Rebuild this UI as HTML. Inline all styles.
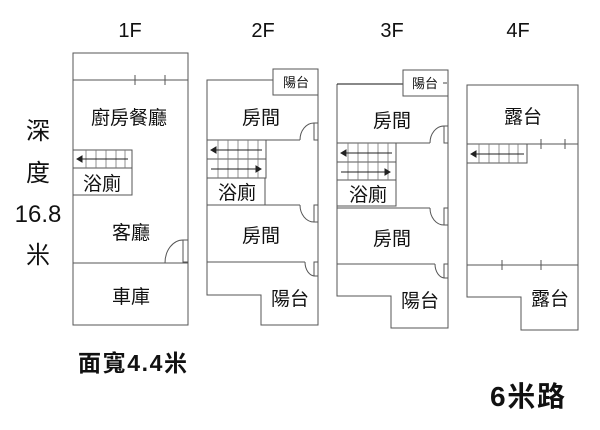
<!DOCTYPE html>
<html><head><meta charset="utf-8"><style>
html,body{margin:0;padding:0;background:#fff;}
svg{display:block;}
text{font-family:"Liberation Sans","Noto Sans CJK TC",sans-serif;fill:#111;}
</style></head><body>
<svg width="600" height="430" viewBox="0 0 600 430" xmlns="http://www.w3.org/2000/svg">
<g font-size="20" text-anchor="middle">
<text x="130" y="37">1F</text><text x="263" y="37">2F</text><text x="392" y="37">3F</text><text x="518" y="37">4F</text>
</g>
<g font-size="24" text-anchor="middle">
<text x="38" y="139">深</text><text x="38" y="181">度</text><text x="38" y="222">16.8</text><text x="38" y="263">米</text>
</g>
<text x="78" y="371" font-size="23" font-weight="bold" textLength="109">面寬4.4米</text>
<text x="490" y="406" font-size="28" font-weight="bold" textLength="75">6米路</text>

<g fill="none" stroke="#555" stroke-width="1">
<!-- 1F -->
<rect x="73" y="53" width="115" height="272"/>
<line x1="73" y1="80" x2="188" y2="80"/>
<line x1="135" y1="75" x2="135" y2="85"/><line x1="165" y1="75" x2="165" y2="85"/>
<rect x="73" y="150" width="59" height="45"/>
<line x1="73" y1="168" x2="132" y2="168"/>
<line x1="73" y1="263" x2="188" y2="263"/>
<path d="M165 263 A18 23 0 0 1 183 240"/>
<rect x="183" y="240" width="5" height="22"/>
<!-- 2F -->
<path d="M273 80 H207 V295 H261 V325 H318 V69"/>
<rect x="273" y="69" width="45" height="26"/>
<line x1="207" y1="140" x2="300" y2="140"/>
<path d="M300 140 A14 17 0 0 1 314 123"/><rect x="314" y="123" width="4" height="17"/>
<line x1="207" y1="205" x2="300" y2="205"/>
<path d="M300 205 A14 17 0 0 0 314 222"/><rect x="314" y="205" width="4" height="17"/>
<line x1="207" y1="262" x2="305" y2="262"/>
<path d="M305 262 A10 14 0 0 0 315 276"/><rect x="314" y="262" width="4" height="14"/>
<rect x="207" y="140" width="59" height="38"/>
<line x1="207" y1="159" x2="266" y2="159"/>
<line x1="207" y1="178" x2="207" y2="205"/><line x1="265" y1="178" x2="265" y2="205"/>
<!-- 3F -->
<path d="M337 84 V296 H391 V328 H448 V70"/>
<path d="M403 84 H337" stroke="#111"/>
<rect x="403" y="70" width="45" height="26"/>
<line x1="337" y1="143" x2="430" y2="143"/>
<path d="M430 143 A14 17 0 0 1 444 126"/><rect x="444" y="126" width="4" height="17"/>
<line x1="337" y1="208" x2="430" y2="208"/>
<path d="M430 208 A14 17 0 0 0 444 225"/><rect x="444" y="208" width="4" height="17"/>
<line x1="337" y1="264" x2="435" y2="264"/>
<path d="M435 264 A10 14 0 0 0 445 278"/><rect x="444" y="264" width="4" height="14"/>
<rect x="337" y="143" width="59" height="63"/>
<line x1="337" y1="162" x2="396" y2="162"/><line x1="337" y1="180" x2="396" y2="180"/>
<!-- 4F -->
<path d="M467 85 H578 V330 H521 V297 H467 Z"/>
<line x1="467" y1="144" x2="578" y2="144"/>
<line x1="541" y1="139" x2="541" y2="149"/><line x1="565" y1="139" x2="565" y2="149"/>
<rect x="467" y="144" width="60" height="19"/>
<line x1="467" y1="265" x2="578" y2="265"/>
<line x1="502" y1="260" x2="502" y2="270"/><line x1="541" y1="260" x2="541" y2="270"/>
</g>

<g stroke="#777" stroke-width="0.8">
<line x1="86" y1="150" x2="86" y2="168"/><line x1="96" y1="150" x2="96" y2="168"/><line x1="106" y1="150" x2="106" y2="168"/><line x1="116" y1="150" x2="116" y2="168"/><line x1="125" y1="150" x2="125" y2="168"/>
<line x1="218" y1="140" x2="218" y2="178"/><line x1="228" y1="140" x2="228" y2="178"/><line x1="238" y1="140" x2="238" y2="178"/><line x1="248" y1="140" x2="248" y2="178"/><line x1="258" y1="140" x2="258" y2="178"/>
<line x1="348" y1="143" x2="348" y2="180"/><line x1="358" y1="143" x2="358" y2="180"/><line x1="368" y1="143" x2="368" y2="180"/><line x1="378" y1="143" x2="378" y2="180"/><line x1="388" y1="143" x2="388" y2="180"/>
<line x1="479" y1="144" x2="479" y2="163"/><line x1="489" y1="144" x2="489" y2="163"/><line x1="499" y1="144" x2="499" y2="163"/><line x1="509" y1="144" x2="509" y2="163"/><line x1="518" y1="144" x2="518" y2="163"/>
</g>
<g stroke="#222" stroke-width="1" fill="#222">
<line x1="80" y1="159" x2="128" y2="159"/><path d="M77 159 l5 -3 v6z"/>
<line x1="214" y1="150" x2="262" y2="150"/><path d="M211 150 l5 -3 v6z"/>
<line x1="211" y1="169" x2="256" y2="169"/><path d="M261 169 l-5 -3 v6z"/>
<line x1="344" y1="153" x2="392" y2="153"/><path d="M341 153 l5 -3 v6z"/>
<line x1="341" y1="172" x2="385" y2="172"/><path d="M390 172 l-5 -3 v6z"/>
<line x1="474" y1="154" x2="524" y2="154"/><path d="M471 154 l5 -3 v6z"/>
</g>

<g font-size="19" text-anchor="middle">
<text x="129" y="124">廚房餐廳</text>
<text x="102" y="190">浴廁</text>
<text x="131" y="239">客廳</text>
<text x="131" y="303">車庫</text>
<text x="261" y="124">房間</text>
<text x="237" y="199">浴廁</text>
<text x="261" y="242">房間</text>
<text x="290" y="305">陽台</text>
<text x="392" y="127">房間</text>
<text x="368" y="201">浴廁</text>
<text x="392" y="245">房間</text>
<text x="420" y="307">陽台</text>
<text x="523" y="123">露台</text>
<text x="550" y="305">露台</text>
</g>
<g font-size="13" text-anchor="middle">
<text x="296" y="87">陽台</text>
<text x="425" y="88">陽台</text>
</g>
<line x1="443" y1="83" x2="447" y2="83" stroke="#444"/>
</svg>
</body></html>
